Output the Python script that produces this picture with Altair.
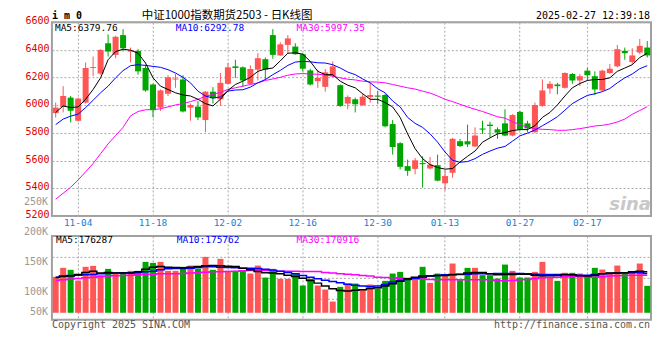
import altair as alt
import pandas as pd

MONO = "DejaVu Sans Mono"
CJK = "Noto Sans CJK SC"
RED = "#ff5555"
GREEN = "#00a600"
GRID = "#a8a8a8"

DATES = ["10-30", "10-31", "11-01", "11-04", "11-05", "11-06", "11-07", "11-08", "11-11", "11-12",
         "11-13", "11-14", "11-15", "11-18", "11-19", "11-20", "11-21", "11-22", "11-25", "11-26",
         "11-27", "11-28", "11-29", "12-02", "12-03", "12-04", "12-05", "12-06", "12-09", "12-10",
         "12-11", "12-12", "12-13", "12-16", "12-17", "12-18", "12-19", "12-20", "12-23", "12-24",
         "12-25", "12-26", "12-27", "12-30", "12-31", "01-02", "01-03", "01-06", "01-07", "01-08",
         "01-09", "01-10", "01-13", "01-14", "01-15", "01-16", "01-17", "01-20", "01-21", "01-22",
         "01-23", "01-24", "01-27", "02-05", "02-06", "02-07", "02-10", "02-11", "02-12", "02-13",
         "02-14", "02-17", "02-18", "02-19", "02-20", "02-21", "02-24", "02-25", "02-26", "02-27"]

OPEN = [5943, 5988, 6055, 5888, 6019, 6269, 6229, 6448, 6364, 6507,
        6388, 6393, 6269, 6150, 5983, 6083, 6186, 6186, 5983, 5990,
        5893, 6098, 6043, 6155, 6281, 6274, 6155, 6257, 6333, 6507,
        6360, 6436, 6424, 6369, 6252, 6174, 6133, 6210, 6145, 6012,
        6043, 6000, 6060, 6070, 6074, 5864, 5726, 5560, 5540, 5582,
        5543, 5567, 5436, 5512, 5740, 5740, 5702, 5832, 5860, 5826,
        5869, 5781, 5952, 5869, 5805, 5995, 6121, 6150, 6126, 6226,
        6179, 6250, 6210, 6107, 6233, 6281, 6393, 6312, 6381, 6417]
HIGH = [6019, 6138, 6067, 6055, 6310, 6352, 6405, 6512, 6502, 6550,
        6417, 6405, 6293, 6155, 6114, 6217, 6226, 6217, 6012, 6031,
        6102, 6131, 6233, 6305, 6329, 6281, 6288, 6376, 6345, 6550,
        6455, 6507, 6448, 6376, 6264, 6257, 6262, 6317, 6150, 6071,
        6055, 6083, 6162, 6102, 6083, 5893, 5733, 5607, 5619, 5631,
        5626, 5643, 5531, 5764, 5757, 5860, 5840, 5888, 5881, 5840,
        5971, 5936, 5960, 5888, 6019, 6186, 6174, 6162, 6238, 6233,
        6226, 6269, 6245, 6257, 6298, 6436, 6417, 6412, 6479, 6464]
LOW = [5912, 5948, 5876, 5883, 6012, 6210, 6221, 6352, 6340, 6388,
       6310, 6221, 6098, 5912, 5960, 6067, 6126, 5948, 5888, 5893,
       5805, 6012, 5995, 6150, 6198, 6131, 6150, 6179, 6186, 6336,
       6357, 6376, 6364, 6245, 6143, 6126, 6098, 6202, 5988, 5971,
       5948, 5995, 6019, 6012, 5840, 5643, 5536, 5490, 5500, 5405,
       5536, 5450, 5383, 5476, 5698, 5698, 5698, 5793, 5769, 5757,
       5776, 5776, 5817, 5805, 5800, 5988, 6083, 6079, 6121, 6155,
       6138, 6179, 6074, 6102, 6226, 6274, 6329, 6293, 6369, 6345]
CLOSE = [5983, 6067, 5960, 6048, 6269, 6276, 6400, 6388, 6495, 6412,
         6398, 6245, 6107, 5964, 6107, 6202, 6193, 5955, 6002, 5912,
         6098, 6050, 6162, 6274, 6269, 6179, 6262, 6340, 6257, 6364,
         6440, 6483, 6369, 6264, 6150, 6198, 6238, 6281, 5995, 6060,
         6007, 6062, 6074, 6062, 5848, 5698, 5555, 5526, 5602, 5574,
         5571, 5455, 5488, 5757, 5705, 5717, 5781, 5824, 5850, 5802,
         5781, 5929, 5824, 5833, 6002, 6107, 6155, 6138, 6233, 6179,
         6210, 6217, 6114, 6250, 6264, 6405, 6376, 6360, 6429, 6360]

MA5 = [5948, 5995, 5983, 5988, 6043, 6114, 6198, 6329, 6388, 6405,
       6398, 6376, 6305, 6198, 6138, 6114, 6090, 6074, 6067, 6043,
       6012, 5995, 6043, 6107, 6150, 6174, 6202, 6245, 6262, 6269,
       6321, 6376, 6379, 6369, 6317, 6245, 6221, 6221, 6174, 6145,
       6126, 6083, 6043, 6043, 6019, 5988, 5912, 5793, 5686, 5614,
       5571, 5550, 5538, 5543, 5590, 5631, 5669, 5733, 5764, 5793,
       5802, 5817, 5824, 5824, 5852, 5912, 5948, 6002, 6067, 6126,
       6157, 6179, 6186, 6186, 6198, 6245, 6269, 6293, 6345, 6376]
MA10 = [5860, 5900, 5921, 5936, 5983, 6036, 6090, 6138, 6198, 6250,
        6286, 6293, 6288, 6281, 6274, 6257, 6233, 6202, 6162, 6102,
        6067, 6052, 6060, 6102, 6110, 6112, 6131, 6162, 6186, 6221,
        6252, 6288, 6312, 6317, 6314, 6307, 6305, 6293, 6269, 6240,
        6221, 6190, 6162, 6119, 6090, 6031, 5988, 5912, 5869, 5840,
        5793, 5733, 5662, 5602, 5588, 5593, 5614, 5645, 5669, 5690,
        5702, 5740, 5779, 5798, 5821, 5852, 5883, 5917, 5964, 6012,
        6043, 6071, 6083, 6098, 6121, 6162, 6198, 6226, 6264, 6286]
MA30 = [5321, 5364, 5407, 5460, 5519, 5579, 5650, 5721, 5781, 5840,
        5924, 5955, 5967, 5969, 5974, 5988, 6002, 6012, 6026, 6043,
        6064, 6079, 6093, 6114, 6126, 6138, 6150, 6162, 6179, 6190,
        6202, 6217, 6226, 6229, 6226, 6224, 6219, 6210, 6198, 6188,
        6183, 6174, 6169, 6167, 6162, 6150, 6138, 6126, 6117, 6102,
        6088, 6067, 6043, 6026, 6007, 5988, 5971, 5955, 5936, 5917,
        5907, 5881, 5860, 5840, 5831, 5826, 5824, 5819, 5819, 5824,
        5831, 5840, 5850, 5855, 5864, 5879, 5900, 5935, 5962, 5990]

VOL_K = [125.0, 140.0, 136.7, 118.8, 141.7, 143.3, 127.8, 138.3, 130.0, 131.7,
         135.0, 135.0, 150.0, 148.3, 150.0, 135.0, 135.0, 141.7, 143.8, 138.8,
         158.3, 136.7, 155.0, 135.0, 135.0, 135.0, 130.5, 143.8, 123.8, 138.3,
         121.7, 121.7, 130.5, 110.5, 121.7, 110.5, 103.8, 83.8, 108.3, 113.8,
         113.8, 102.8, 112.2, 105.5, 118.3, 130.5, 133.3, 122.2, 123.3, 141.7,
         115.0, 130.5, 126.7, 147.2, 119.5, 140.0, 140.0, 127.8, 127.8, 122.2,
         145.5, 135.0, 123.8, 123.8, 133.3, 150.0, 123.8, 118.3, 131.7, 131.7,
         130.5, 127.8, 140.0, 137.2, 132.2, 143.8, 130.5, 133.3, 147.2, 110.0]
VMA5_K = [123.8, 125.5, 126.2, 128.8, 132.2, 134.5, 131.2, 132.2, 131.2, 131.2,
          131.2, 133.3, 137.8, 141.2, 142.2, 141.2, 140.5, 140.0, 141.2, 142.2,
          143.3, 143.8, 143.3, 142.8, 142.2, 139.5, 136.7, 133.8, 131.7, 131.2,
          130.0, 127.8, 125.5, 122.8, 118.8, 114.5, 109.5, 105.0, 102.2, 101.2,
          102.8, 103.3, 105.5, 106.7, 109.5, 113.3, 117.8, 121.7, 124.5, 126.2,
          126.2, 127.2, 127.2, 128.3, 129.5, 131.2, 132.2, 132.2, 130.0, 128.3,
          128.8, 128.8, 129.5, 129.5, 127.8, 126.7, 126.7, 127.2, 128.8, 128.3,
          126.7, 126.2, 127.8, 130.0, 131.2, 131.2, 131.7, 133.3, 134.5, 133.3]
VMA10_K = [124.5, 126.2, 127.2, 127.8, 128.3, 128.8, 130.0, 130.5, 131.2, 131.7,
           131.7, 132.2, 133.3, 134.5, 136.7, 138.3, 138.8, 138.8, 139.5, 140.5,
           141.7, 141.7, 141.2, 140.5, 140.0, 139.5, 139.5, 138.8, 137.8, 136.2,
           134.5, 132.2, 130.0, 127.2, 124.5, 121.7, 119.5, 117.2, 115.0, 112.8,
           111.0, 109.5, 109.0, 109.5, 112.2, 116.2, 118.8, 120.5, 122.8, 124.5,
           126.2, 127.2, 128.3, 128.8, 128.8, 129.5, 130.0, 130.0, 130.0, 130.5,
           130.5, 130.5, 130.5, 130.0, 129.5, 128.8, 128.8, 128.8, 128.3, 128.3,
           127.8, 127.8, 128.8, 130.0, 130.5, 131.2, 131.2, 131.7, 131.7, 130.5]
VMA30_K = [118.8, 120.0, 121.2, 122.2, 123.3, 124.5, 125.5, 126.2, 126.7, 127.2,
           127.8, 128.3, 128.8, 129.5, 130.0, 130.0, 130.0, 130.5, 131.2, 131.7,
           132.8, 133.3, 133.3, 133.8, 134.5, 135.0, 135.5, 135.5, 135.5, 135.0,
           134.5, 134.5, 134.5, 133.8, 133.8, 133.8, 132.2, 131.2, 130.0, 129.5,
           128.3, 127.2, 126.2, 124.5, 123.8, 123.3, 122.8, 122.2, 121.7, 121.2,
           120.5, 120.0, 120.0, 120.0, 120.0, 120.0, 120.0, 120.0, 120.0, 118.3,
           118.3, 118.8, 120.0, 120.5, 122.2, 123.3, 123.8, 124.5, 125.0, 125.5,
           125.5, 125.0, 124.5, 125.0, 126.2, 126.7, 127.2, 127.8, 127.8, 127.8]

PRICE_TICKS = [5200, 5400, 5600, 5800, 6000, 6200, 6400, 6600]
PRICE_DOMAIN = [5200, 6600]
DATE_TICKS = ["11-04", "11-18", "12-02", "12-16", "12-30", "01-13", "01-27", "02-17"]
VOL_DOMAIN = [53333, 193333]
VOL_BASE = 65000
VOL_TICK_TEXT = ["250K", "200K", "150K", "100K", "50K"]
VOL_TICK_AT = [250000, 200000, 150000, 100000, 66000]

df = pd.DataFrame({
    "date": DATES, "open": OPEN, "high": HIGH, "low": LOW, "close": CLOSE,
    "ma5": MA5, "ma10": MA10, "ma30": MA30,
    "vol": [v * 1000 for v in VOL_K],
    "vma5": [v * 1000 for v in VMA5_K],
    "vma10": [v * 1000 for v in VMA10_K],
    "vma30": [v * 1000 for v in VMA30_K],
})
df["dir"] = ["up" if c >= o else "down" for o, c in zip(OPEN, CLOSE)]

color = alt.Color("dir:N", scale=alt.Scale(domain=["up", "down"], range=[RED, GREEN]), legend=None)
xscale = alt.Scale(type="band", domain=DATES, paddingInner=0, paddingOuter=0)


def xenc(show_labels):
    return alt.X("date:O", scale=xscale, axis=alt.Axis(
        values=DATE_TICKS, grid=True, gridColor=GRID, gridDash=[2, 2], gridWidth=1,
        ticks=False, domain=False, labels=show_labels, labelAngle=0, labelColor="#1a7fd4",
        labelFont=MONO, labelFontSize=9.5, labelPadding=2, title=None, bandPosition=0.5))


def label(txt, x, y, col, size=10, align="left", font=MONO, weight="normal", style="normal", opacity=1.0):
    return alt.Chart(pd.DataFrame({"t": [txt]})).mark_text(
        align=align, baseline="middle", color=col, fontSize=size, font=font,
        fontWeight=weight, fontStyle=style, opacity=opacity
    ).encode(text="t:N", x=alt.value(x), y=alt.value(y))


yscale = alt.Scale(domain=PRICE_DOMAIN, nice=False, zero=False)
yaxis = alt.Axis(values=PRICE_TICKS, format="d", grid=True, gridColor=GRID, gridDash=[2, 2],
                 ticks=False, domain=False, labelColor="#e00000", labelFont=MONO, labelFontSize=10,
                 labelPadding=3, labelOffset=-1.5, title=None)

pbase = alt.Chart(df).encode(x=xenc(True))
wick = pbase.mark_rule(strokeWidth=1).encode(
    y=alt.Y("low:Q", scale=yscale, axis=yaxis), y2="high:Q", color=color)
body = pbase.mark_bar(size=6).encode(
    y=alt.Y("open:Q", scale=yscale, axis=yaxis), y2="close:Q", color=color)
l5 = pbase.mark_line(color="#000000", strokeWidth=1).encode(y=alt.Y("ma5:Q", scale=yscale, axis=yaxis))
l10 = pbase.mark_line(color="#0000ff", strokeWidth=1).encode(y=alt.Y("ma10:Q", scale=yscale, axis=yaxis))
l30 = pbase.mark_line(color="#ff00ff", strokeWidth=1).encode(y=alt.Y("ma30:Q", scale=yscale, axis=yaxis))

price = alt.layer(
    wick, body, l30, l10, l5,
    label("MA5:6379.76", 3, 5.5, "#000000", size=9.5),
    label("MA10:6292.78", 124, 5.5, "#0000ff", size=9.5),
    label("MA30:5997.35", 245, 5.5, "#ff00ff", size=9.5),
    label("i m 0", 0, -6.5, "#000000", size=10, weight="bold"),
    label("中证1000指数期货2503 - 日K线图", 90, -6, "#000000", size=11.5, font=CJK),
    label("2025-02-27 12:39:18", 599, -6.5, "#000000", size=10, align="right"),
    label("sina", 600, 183, "#c8c8c8", size=18, font="DejaVu Sans", weight="bold",
          style="italic", align="right"),
).properties(width=600, height=194)

vscale = alt.Scale(domain=VOL_DOMAIN, nice=False, zero=False)
vgrid = [VOL_DOMAIN[0] + k * (VOL_DOMAIN[1] - VOL_DOMAIN[0]) / 4 for k in (1, 2, 3)]
vaxis = alt.Axis(values=vgrid, grid=True, gridColor=GRID, gridDash=[2, 2], ticks=False,
                 domain=False, labels=False, title=None)

vbase = alt.Chart(df).encode(x=xenc(False))
vbar = vbase.mark_bar(size=6).encode(
    y=alt.Y("vol:Q", scale=vscale, axis=vaxis), y2=alt.datum(VOL_BASE), color=color)
v30 = vbase.mark_line(color="#ff00ff", strokeWidth=1.5, interpolate="step").encode(
    y=alt.Y("vma30:Q", scale=vscale, axis=vaxis))
v10 = vbase.mark_line(color="#0000ff", strokeWidth=1.5, interpolate="step").encode(
    y=alt.Y("vma10:Q", scale=vscale, axis=vaxis))
v5 = vbase.mark_line(color="#000000", strokeWidth=1.5, interpolate="step").encode(
    y=alt.Y("vma5:Q", scale=vscale, axis=vaxis))

vlabels = alt.Chart(pd.DataFrame({"t": VOL_TICK_TEXT, "at": VOL_TICK_AT})).mark_text(
    align="right", baseline="middle", color="#999999", fontSize=10, font=MONO
).encode(text="t:N", y=alt.Y("at:Q", scale=vscale, axis=vaxis), x=alt.value(-4))

vol = alt.layer(
    vbar, v30, v10, v5, vlabels,
    label("MA5:176287", 4, 4, "#000000", size=9.5),
    label("MA10:175762", 125, 4, "#0000ff", size=9.5),
    label("MA30:170916", 245, 4, "#ff00ff", size=9.5),
    label("Copyright 2025 SINA.COM", 0, 89, "#555555", size=10),
    label("http://finance.sina.com.cn", 599, 89.5, "#555555", size=10, align="right"),
).properties(width=600, height=84)

chart = alt.vconcat(price, vol, spacing=20, bounds="flush").configure_view(
    stroke="#a0a0a0", strokeWidth=2
).properties(padding={"left": 14, "top": 1, "right": 0, "bottom": 0})

chart.save("out.html", embed_options={"renderer": "svg", "actions": False})
